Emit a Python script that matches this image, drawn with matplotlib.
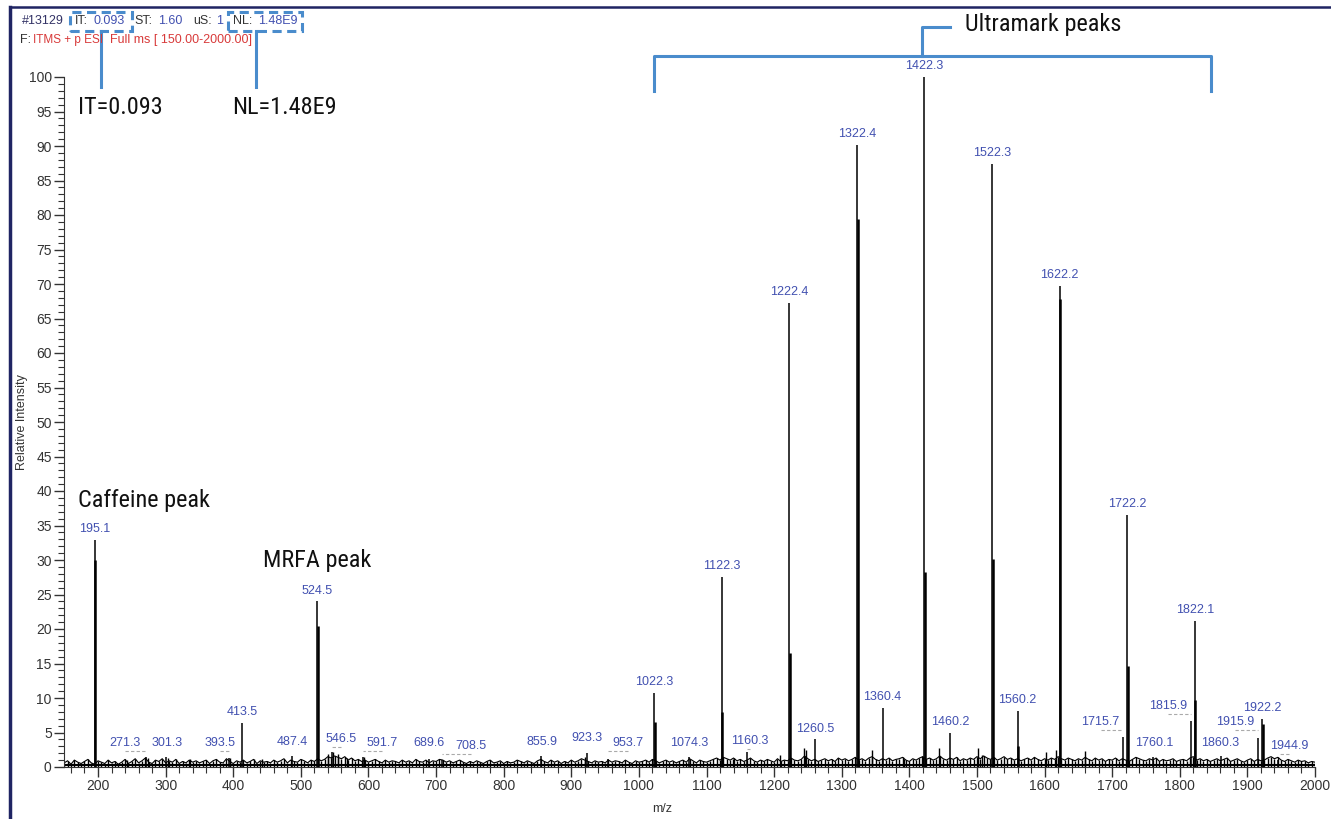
import matplotlib
matplotlib.use("Agg")
import matplotlib.pyplot as plt
import numpy as np
from matplotlib import font_manager
from matplotlib.lines import Line2D
from matplotlib.patches import Rectangle
from matplotlib.ticker import MultipleLocator

# Labelled peaks (m/z, relative intensity) and where the label sits (m/z of label centre)
peak_mz = [195.1, 271.3, 301.3, 393.5, 413.5, 487.4, 524.5, 546.5, 591.7, 689.6,
           708.5, 855.9, 923.3, 953.7, 1022.3, 1074.3, 1122.3, 1160.3, 1222.4, 1260.5,
           1322.4, 1360.4, 1422.3, 1460.2, 1522.3, 1560.2, 1622.2, 1715.7, 1722.2, 1760.1,
           1815.9, 1822.1, 1860.3, 1915.9, 1922.2, 1944.9]
peak_int = [32.9, 1.4, 1.4, 1.3, 6.4, 1.6, 24.0, 2.2, 1.4, 1.2,
            1.0, 1.6, 2.1, 1.2, 10.7, 1.4, 27.5, 2.2, 67.3, 4.0,
            90.2, 8.6, 100.0, 4.9, 87.4, 8.1, 69.7, 4.4, 36.5, 1.5,
            6.7, 21.2, 1.6, 4.2, 7.0, 1.0]
label_mz = [195.1, 240, 302, 380, 413.5, 488, 524.5, 560, 620, 690,
            752, 856, 923, 984, 1022.3, 1074, 1122.3, 1164, 1222.4, 1260.5,
            1322.4, 1360.4, 1422.3, 1460.2, 1522.3, 1560.2, 1622.2, 1683, 1722.2, 1762,
            1783, 1822.1, 1860.3, 1882, 1922.2, 1962]
label_y = [32.9, 1.9, 1.9, 1.9, 6.4, 2.0, 24.0, 2.5, 1.9, 1.9,
           1.5, 2.0, 2.6, 1.9, 10.7, 1.9, 27.5, 2.2, 67.3, 4.0,
           90.2, 8.6, 100.0, 4.9, 87.4, 8.1, 69.7, 4.9, 36.5, 1.9,
           7.3, 21.2, 1.9, 4.9, 7.0, 1.5]

# isotope / shoulder lines next to the main peaks
iso_mz = [196.1, 525.5, 1023.3, 1123.3, 1223.4, 1323.4, 1423.3, 1523.3, 1623.2, 1723.2, 1823.1, 1923.2, 1561.2]
iso_int = [30.0, 20.5, 6.5, 8.0, 16.5, 79.4, 28.3, 30.1, 67.8, 14.7, 9.7, 6.3, 3.0]

# small unlabelled peaks
minor_mz = [243, 273.4, 303, 336, 395, 442, 540.7, 547.6, 554.5, 568, 594, 920, 1139.7,
            1208.7, 1244.7, 1246.5, 1345, 1392, 1418, 1444, 1502, 1507, 1602, 1616.6, 1660]
minor_int = [1.0, 1.3, 1.3, 1.1, 1.3, 1.2, 1.9, 2.2, 1.9, 1.3, 1.5, 1.5, 1.2,
             1.7, 2.8, 2.5, 2.5, 1.2, 1.6, 2.7, 2.7, 1.7, 2.2, 2.5, 2.3]

# baseline noise, one value per 5 m/z from 150 to 2000
noise_start, noise_step = 150, 5
noise = [
    0.6, 0.9, 0.4, 1.0, 0.7, 0.5, 0.8, 1.1, 0.6, 0.4, 0.9, 0.7, 0.5, 1.0, 0.6, 0.8, 0.4, 0.7, 1.1, 0.5,
    0.8, 1.2, 0.6, 0.9, 1.3, 0.7, 0.5, 1.0, 0.8, 1.2, 0.6, 0.9, 0.7, 1.1, 0.5, 0.8, 0.6, 1.0, 0.7, 0.9,
    0.6, 0.8, 1.0, 0.5, 0.9, 1.1, 0.7, 0.6, 1.2, 0.8, 0.5, 0.9, 0.7, 1.0, 0.6, 0.8, 1.1, 0.5, 0.9, 0.7,
    0.8, 0.6, 1.0, 0.7, 0.9, 1.2, 0.6, 1.0, 0.8, 0.7, 1.1, 0.9, 0.6, 1.0, 0.8, 1.2, 0.9, 1.1, 1.5, 1.3,
    1.6, 1.4, 1.2, 1.5, 1.0, 1.3, 0.9, 1.1, 0.8, 1.0, 0.7, 0.9, 1.1, 0.8, 0.6, 1.0, 0.7, 0.9, 0.8, 0.6,
    1.0, 0.7, 0.9, 0.6, 1.1, 0.8, 0.7, 1.0, 0.6, 0.9, 0.8, 1.1, 1.0, 0.7, 0.9, 0.6, 0.8, 1.0, 0.7, 0.5,
    0.8, 0.6, 0.9, 0.7, 0.5, 0.8, 1.0, 0.6, 0.7, 0.9, 0.5, 0.8, 0.6, 0.7, 1.0, 0.8, 0.6, 0.9, 0.7, 0.5,
    0.9, 1.1, 0.8, 0.6, 1.0, 0.7, 0.9, 0.5, 0.8, 0.6, 1.0, 0.7, 0.9, 1.2, 1.0, 0.8, 0.6, 0.9, 0.7, 0.8,
    0.6, 1.0, 0.7, 0.9, 0.8, 0.6, 1.0, 0.7, 0.5, 0.9, 0.7, 0.8, 1.0, 0.7, 1.1, 0.9, 0.6, 0.8, 1.0, 0.7,
    0.9, 0.6, 0.8, 1.0, 0.7, 1.2, 0.9, 0.6, 1.0, 0.8, 0.7, 0.9, 1.1, 1.3, 1.0, 1.4, 1.2, 1.0, 1.3, 0.9,
    1.1, 0.8, 1.0, 1.3, 0.9, 0.7, 1.0, 0.8, 1.1, 0.9, 0.7, 1.2, 0.8, 1.0, 0.9, 1.3, 1.0, 0.9, 1.1, 1.6,
    1.2, 0.9, 1.1, 0.8, 1.0, 1.2, 0.9, 1.1, 0.8, 1.3, 1.0, 1.2, 0.9, 1.1, 1.4, 1.0, 1.2, 0.9, 1.3, 1.5,
    1.1, 0.9, 1.2, 1.0, 1.3, 0.9, 1.1, 1.2, 1.4, 1.0, 0.8, 1.2, 1.0, 1.3, 1.5, 1.1, 1.3, 1.0, 1.2, 1.6,
    1.2, 1.0, 1.3, 1.1, 1.4, 0.9, 1.2, 1.0, 1.3, 1.1, 1.5, 1.2, 1.6, 1.3, 1.1, 1.4, 1.0, 1.2, 1.5, 1.1,
    1.3, 1.0, 1.2, 0.9, 1.1, 1.3, 1.0, 1.4, 1.1, 0.9, 1.2, 1.0, 1.3, 1.1, 1.5, 1.2, 1.0, 1.3, 1.1, 0.9,
    1.2, 1.0, 1.4, 1.1, 0.9, 1.3, 1.0, 1.2, 0.8, 1.1, 1.0, 1.3, 0.9, 1.2, 1.0, 0.8, 1.1, 1.4, 1.2, 1.0,
    0.9, 1.2, 1.0, 1.3, 0.8, 1.1, 0.9, 1.0, 1.2, 0.8, 1.0, 1.1, 0.9, 1.3, 1.5, 1.0, 1.2, 0.9, 1.1, 0.8,
    1.0, 1.2, 0.9, 1.1, 1.3, 0.8, 1.0, 1.2, 0.9, 0.7, 1.0, 1.2, 0.8, 1.1, 0.9, 1.0, 1.3, 1.5, 1.2, 1.4,
    1.0, 0.8, 1.1, 0.9, 0.7, 1.0, 0.8, 0.9, 0.6, 0.8, 0.7,
]
noise_mz = noise_start + noise_step * np.arange(len(noise))

W, H = 1331, 819
blue = "#4a8ccc"
lab_col = "#4150b0"


def has_font(name):
    try:
        font_manager.findfont(name, fallback_to_default=False)
        return True
    except ValueError:
        return False


# condensed face for the callout notes if one is installed, else shrink Roboto
narrow_fam = None
for cand in ["Roboto Condensed", "Liberation Sans Narrow"]:
    if has_font(cand):
        narrow_fam = cand
        break
note_size = 17.5 if narrow_fam else 15.5
narrow = [narrow_fam or "Roboto", "DejaVu Sans"]

plt.rcParams["font.family"] = ["Liberation Sans", "DejaVu Sans"]

fig = plt.figure(figsize=(W / 100, H / 100), dpi=100)
ax = fig.add_axes([64.2 / W, 1 - 767 / H, (1315 - 64.2) / W, (767 - 77) / H])


def px(x, y):
    # pixel position -> figure fraction
    return x / W, 1 - y / H


# spectrum
ax.vlines(noise_mz, 0, noise, color="black", lw=1.0)
ax.plot(noise_mz, noise, color="black", lw=0.8)
ax.axhline(0.3, color="black", lw=1.5)
ax.vlines(minor_mz, 0, minor_int, color="black", lw=1.0)
ax.vlines(iso_mz, 0, iso_int, color="black", lw=1.8)
ax.vlines(peak_mz, 0, peak_int, color="black", lw=1.1)

for mz, h, lx, ly in zip(peak_mz, peak_int, label_mz, label_y):
    ax.annotate(f"{mz:.1f}", (lx, ly), xytext=(0, 3.5), textcoords="offset points",
                ha="center", va="bottom", fontsize=9, color=lab_col, annotation_clip=False)
    if abs(lx - mz) > 3:
        ax.plot([lx, mz], [ly + 0.45, ly + 0.45], ls=(0, (3, 2)), color="#aaaaaa", lw=0.8)

ax.set_xlim(150, 2000)
ax.set_ylim(0, 100)
ax.xaxis.set_minor_locator(MultipleLocator(20))
ax.yaxis.set_major_locator(MultipleLocator(5))
ax.yaxis.set_minor_locator(MultipleLocator(1))
ax.set_xticks(np.arange(200, 2001, 100))
ax.tick_params(which="major", length=7, width=1, labelsize=10, colors="#333333", pad=2)
ax.tick_params(which="minor", length=4, width=0.8, colors="#333333")
for s in ["top", "right"]:
    ax.spines[s].set_visible(False)
for s in ["left", "bottom"]:
    ax.spines[s].set_color("#333333")
ax.set_xlabel("m/z", fontsize=9, color="#333333")
ax.set_ylabel("Relative Intensity", fontsize=9, color="#333333")
ax.xaxis.set_label_coords(0.478, -0.052)
ax.yaxis.set_label_coords((28 - 64.2) / 1251, 0.5)
ax.patch.set_alpha(0)

# header text
hdr = [("#13129", 22, "#333366"), ("IT:", 75, "#333333"), ("0.093", 93, lab_col),
       ("ST:", 134, "#333333"), ("1.60", 158, lab_col), ("uS:", 193, "#333333"),
       ("1", 216, lab_col), ("NL:", 233, "#333333"), ("1.48E9", 258, lab_col)]
for t, x, c in hdr:
    fig.text(*px(x, 21), t, fontsize=9, color=c, va="center", ha="left")
fig.text(*px(20, 40), "F:", fontsize=9, color="#333333", va="center", ha="left")
fig.text(*px(33, 40), "ITMS + p ESI", fontsize=8.5, color="#d83a3a", va="center", ha="left")
fig.text(*px(110, 40), "Full ms [ 150.00-2000.00]", fontsize=9, color="#d83a3a", va="center", ha="left")

# callout boxes and lines
for x0, x1, xl in [(70, 132, 101), (228, 302, 256)]:
    fx0, fy0 = px(x0, 31)
    fx1, fy1 = px(x1, 12)
    fig.add_artist(Rectangle((fx0, fy0), fx1 - fx0, fy1 - fy0, transform=fig.transFigure,
                             fill=False, ec=blue, lw=2.2, ls=(0, (3, 1.8))))
    fig.add_artist(Line2D(*zip(px(xl, 31), px(xl, 87)), transform=fig.transFigure, color=blue, lw=2.2))

bracket = [px(654, 91), px(654, 56), px(1211, 56), px(1211, 91)]
fig.add_artist(Line2D(*zip(*bracket), transform=fig.transFigure, color=blue, lw=2.2))
stem = [px(922, 56), px(922, 27), px(950, 27)]
fig.add_artist(Line2D(*zip(*stem), transform=fig.transFigure, color=blue, lw=2.2))

notes = [("Ultramark peaks", 965, 25), ("IT=0.093", 78, 108), ("NL=1.48E9", 232, 108),
         ("Caffeine peak", 78, 500), ("MRFA peak", 263, 561)]
for t, x, y in notes:
    fig.text(*px(x, y), t, fontsize=note_size, family=narrow, color="#111111", va="center", ha="left")

# window frame
fig.add_artist(Line2D(*zip(px(10, 7), px(10, H)), transform=fig.transFigure, color="#1f2463", lw=2.5))
fig.add_artist(Line2D(*zip(px(10, 7), px(W, 7)), transform=fig.transFigure, color="#1f2463", lw=1.8))

fig.savefig("out.png", dpi=100)
plt.close("all")
